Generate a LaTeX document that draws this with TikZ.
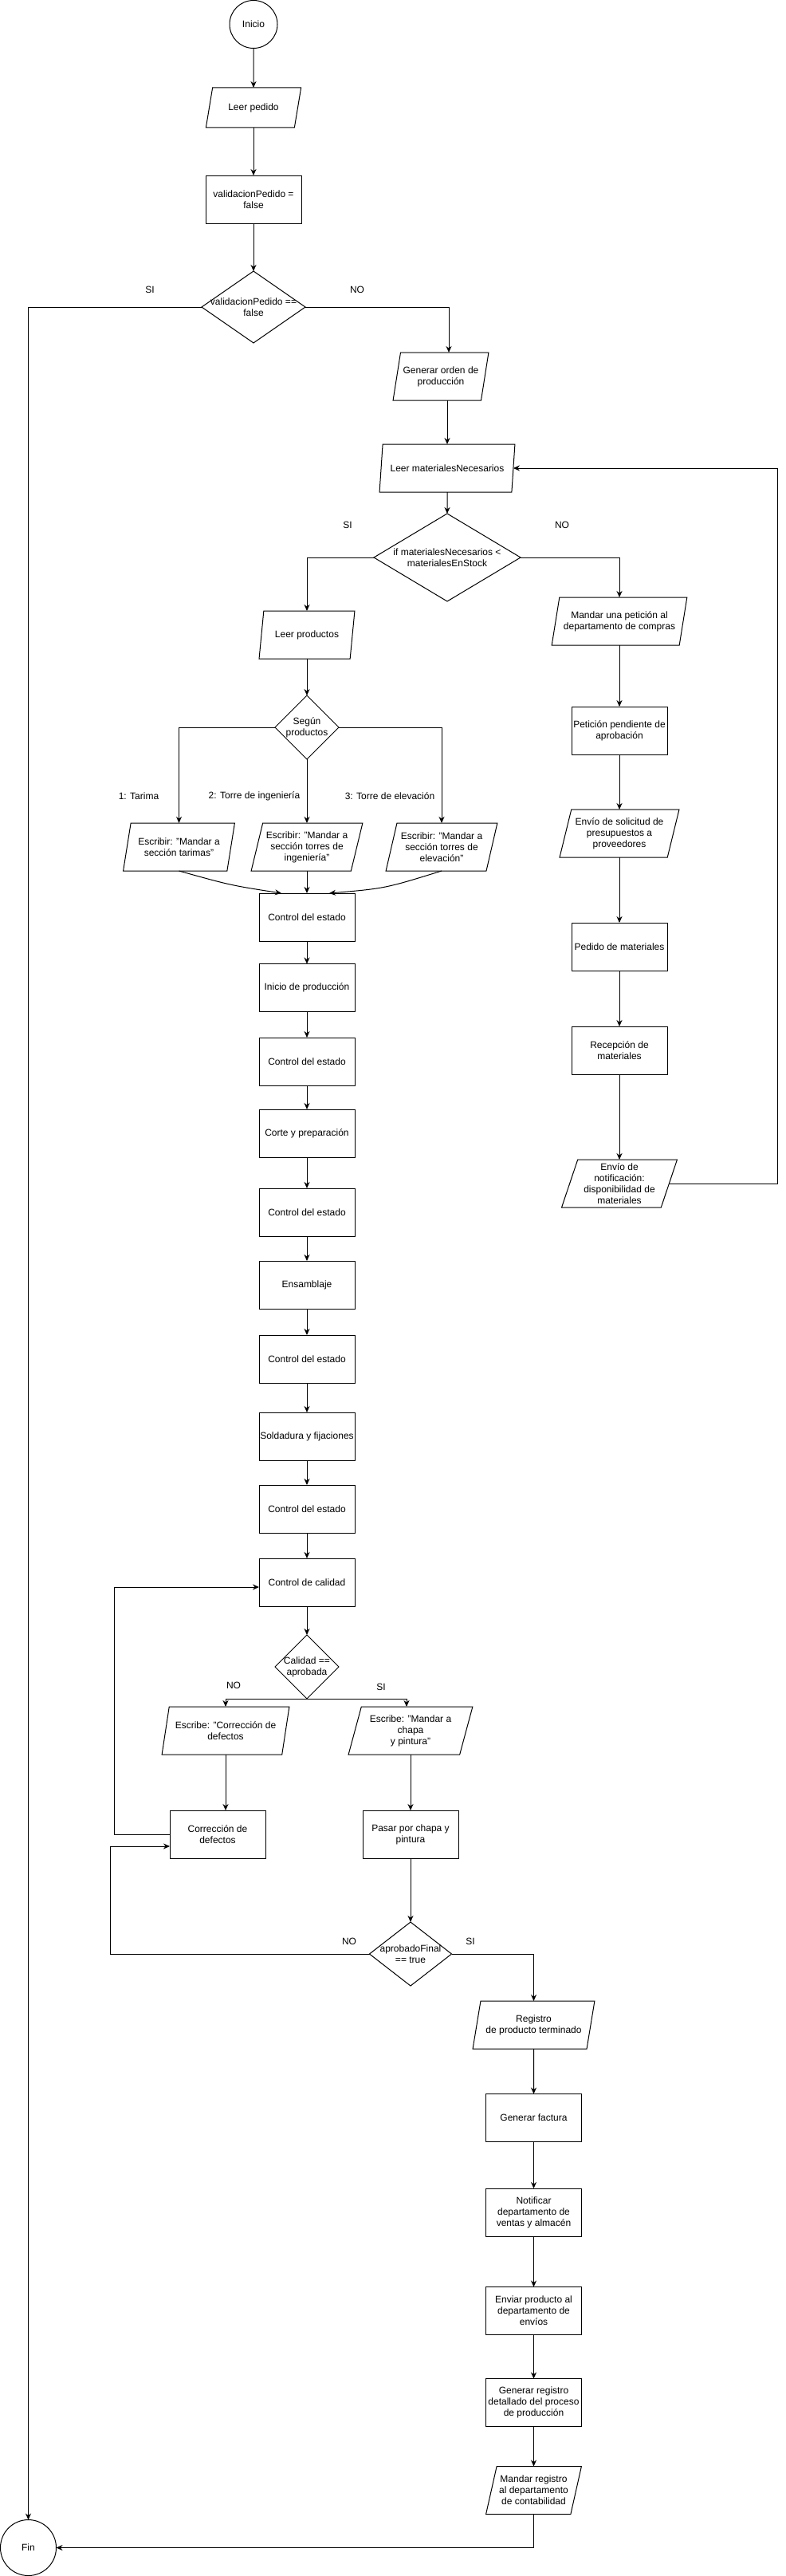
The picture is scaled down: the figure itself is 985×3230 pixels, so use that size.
\documentclass[tikz,border=0pt]{standalone}
\usepackage{fontspec}
\setmainfont{Liberation Sans}
\usetikzlibrary{positioning,shapes.geometric,arrows.meta}

\begin{document}
\begin{tikzpicture}[x=1pt,y=-1pt,line width=1pt,
    font=\fontsize{12}{14}\selectfont,
    proceso/.style={draw,rectangle,minimum width=120pt,minimum height=60pt,inner sep=1pt,outer sep=0pt,align=center},
    datos/.style={draw,trapezium,trapezium left angle=71.57,trapezium right angle=108.43,trapezium stretches=true,minimum width=120pt,minimum height=60pt,inner sep=1pt,outer sep=0pt,align=center},
    decision/.style={draw,diamond,inner sep=0pt,outer sep=0pt},
    terminal/.style={draw,circle,inner sep=0pt,outer sep=0pt},
    flecha/.style={-{Stealth[length=8pt,width=7pt]}}]
        \useasboundingbox (0,0) rectangle (985,3230);

        \node [terminal,minimum size=60pt] at (318,30.5) (inicio) {Inicio};
        \node [datos,trapezium left angle=68.2,trapezium right angle=111.8,minimum height=50pt] at (318,135) (leerPedido) {Leer pedido};
        \node [proceso] at (318,250) (validacion) {validacionPedido =\\false};
        \node [decision,minimum width=130pt,minimum height=90pt,label={[align=center]center:validacionPedido ==\\false}] at (318,385) (dValidacion) {};
        \node at (188,363) (siValidacion) {SI};
        \node at (448,363) (noValidacion) {NO};
        \node [datos] at (553,472) (genOrden) {Generar orden de\\producción};
        \node [datos,minimum width=170pt] at (561,587) (leerMateriales) {Leer materialesNecesarios};
        \node [decision,minimum width=184pt,minimum height=110pt,label={[align=center]center:if materialesNecesarios <\\materialesEnStock}] at (561,699) (dStock) {};
        \node at (436,658) (siStock) {SI};
        \node at (705,658) (noStock) {NO};

        \node [datos] at (385,796) (leerProductos) {Leer productos};
        \node [decision,minimum width=80pt,minimum height=80pt,label={[align=center]center:Según\\productos}] at (385,912) (dProductos) {};
        \node at (174,998) (opTarima) {1: Tarima};
        \node at (319,998) (opIngenieria) {2: Torre de ingeniería};
        \node at (489,998) (opElevacion) {3: Torre de elevación};
        \node [datos,minimum width=140pt] at (224.5,1062) (escTarimas) {Escribir: "Mandar a\\sección tarimas"};
        \node [datos,minimum width=140pt] at (385,1062) (escIngenieria) {Escribir: "Mandar a\\sección torres de\\ingeniería"};
        \node [datos,minimum width=140pt] at (554,1062) (escElevacion) {Escribir: "Mandar a\\sección torres de\\elevación"};

        \node [proceso] at (385,1150) (control1) {Control del estado};
        \node [proceso] at (385,1238.5) (inicioProd) {Inicio de producción};
        \node [proceso] at (385,1331) (control2) {Control del estado};
        \node [proceso] at (385,1421) (corte) {Corte y preparación};
        \node [proceso] at (385,1520) (control3) {Control del estado};
        \node [proceso] at (385,1611) (ensamblaje) {Ensamblaje};
        \node [proceso] at (385,1704) (control4) {Control del estado};
        \node [proceso] at (385,1801) (soldadura) {Soldadura y fijaciones};
        \node [proceso] at (385,1892) (control5) {Control del estado};
        \node [proceso] at (385,1984) (calidad) {Control de calidad};
        \node [decision,minimum width=80pt,minimum height=80pt,label={[align=center]center:Calidad ==\\aprobada}] at (385,2090) (dCalidad) {};
        \node at (293,2113) (noCalidad) {NO};
        \node at (478,2115) (siCalidad) {SI};
        \node [datos,minimum width=160pt] at (283,2170) (escCorreccion) {Escribe: "Corrección de\\defectos};
        \node [datos,minimum width=156pt] at (515,2170) (escChapa) {Escribe: "Mandar a\\chapa\\y pintura"};
        \node [proceso] at (273,2300) (correccion) {Corrección de\\defectos};
        \node [proceso] at (515,2300) (chapa) {Pasar por chapa y\\pintura};
        \node [decision,minimum width=103pt,minimum height=80pt,label={[align=center]center:aprobadoFinal\\== true}] at (515,2450) (dFinal) {};
        \node at (438,2434) (noFinal) {NO};
        \node at (590,2434) (siFinal) {SI};
        \node [datos,minimum width=153pt] at (669.5,2539) (registro) {Registro\\de producto terminado};
        \node [proceso] at (669.5,2655.5) (factura) {Generar factura};
        \node [proceso] at (669.5,2774) (notificar) {Notificar\\departamento de\\ventas y almacén};
        \node [proceso] at (669.5,2897.5) (enviar) {Enviar producto al\\departamento de\\envíos};
        \node [proceso] at (669.5,3012.5) (genRegistro) {Generar registro\\detallado del proceso\\de producción};
        \node [datos] at (669.5,3122.5) (mandarRegistro) {Mandar registro\\al departamento\\de contabilidad};
        \node [terminal,minimum size=70pt] at (35.5,3194.5) (fin) {Fin};

        \node [datos,minimum width=170pt] at (777,779) (peticion) {Mandar una petición al\\departamento de compras};
        \node [proceso] at (777,916) (pendiente) {Petición pendiente de\\aprobación};
        \node [datos,minimum width=150pt] at (777,1045) (solicitud) {Envío de solicitud de\\presupuestos a\\proveedores};
        \node [proceso] at (777,1187) (pedidoMat) {Pedido de materiales};
        \node [proceso] at (777,1317) (recepcion) {Recepción de\\materiales};
        \node [datos,minimum width=145pt] at (777,1484) (notificacion) {Envío de\\notificación:\\disponibilidad de\\materiales};

        \draw [flecha] (inicio) -- (leerPedido);
        \draw [flecha] (leerPedido) -- (validacion);
        \draw [flecha] (validacion) -- (dValidacion);
        \draw [flecha] (dValidacion.west) -| (fin.north);
        \draw [flecha] (dValidacion.east) -| ([xshift=10pt]genOrden.north);
        \draw [flecha] (genOrden.south -| leerMateriales.north) -- (leerMateriales.north);
        \draw [flecha] (leerMateriales) -- (dStock);
        \draw [flecha] (dStock.west) -| (leerProductos.north);
        \draw [flecha] (dStock.east) -| (peticion.north);

        \draw [flecha] (leerProductos) -- (dProductos);
        \draw [flecha] (dProductos.west) -| (escTarimas.north);
        \draw [flecha] (dProductos) -- (escIngenieria);
        \draw [flecha] (dProductos.east) -| (escElevacion.north);
        \draw [flecha] (escTarimas.south) .. controls (289,1110) .. ([xshift=-32pt]control1.north);
        \draw [flecha] (escIngenieria) -- (control1);
        \draw [flecha] (escElevacion.south) .. controls (483,1114) .. ([xshift=28pt]control1.north);

        \draw [flecha] (control1) -- (inicioProd);
        \draw [flecha] (inicioProd) -- (control2);
        \draw [flecha] (control2) -- (corte);
        \draw [flecha] (corte) -- (control3);
        \draw [flecha] (control3) -- (ensamblaje);
        \draw [flecha] (ensamblaje) -- (control4);
        \draw [flecha] (control4) -- (soldadura);
        \draw [flecha] (soldadura) -- (control5);
        \draw [flecha] (control5) -- (calidad);
        \draw [flecha] (calidad) -- (dCalidad);
        \draw [flecha] (dCalidad.south) -| (escCorreccion.north);
        \draw [flecha] (dCalidad.south) -| ([xshift=-5pt]escChapa.north);
        \draw [flecha] (escCorreccion.south) -- (escCorreccion.south |- correccion.north);
        \draw [flecha] (escChapa) -- (chapa);
        \draw [flecha] (correccion.west) -- ++(-70,0) |- ([yshift=-6pt]calidad.west);
        \draw [flecha] (chapa) -- (dFinal);
        \draw [flecha] (dFinal.west) -- ++(-325.5,0) |- ([yshift=-15pt]correccion.west);
        \draw [flecha] (dFinal.east) -| (registro.north);
        \draw [flecha] (registro) -- (factura);
        \draw [flecha] (factura) -- (notificar);
        \draw [flecha] (notificar) -- (enviar);
        \draw [flecha] (enviar) -- (genRegistro);
        \draw [flecha] (genRegistro) -- (mandarRegistro);
        \draw [flecha] (mandarRegistro.south) |- (fin.east);

        \draw [flecha] (peticion) -- (pendiente);
        \draw [flecha] (pendiente) -- (solicitud);
        \draw [flecha] (solicitud) -- (pedidoMat);
        \draw [flecha] (pedidoMat) -- (recepcion);
        \draw [flecha] (recepcion) -- (notificacion);
        \draw [flecha] (notificacion.east) -- ++(136,0) |- (leerMateriales.east);
      \end{tikzpicture}
\end{document}
